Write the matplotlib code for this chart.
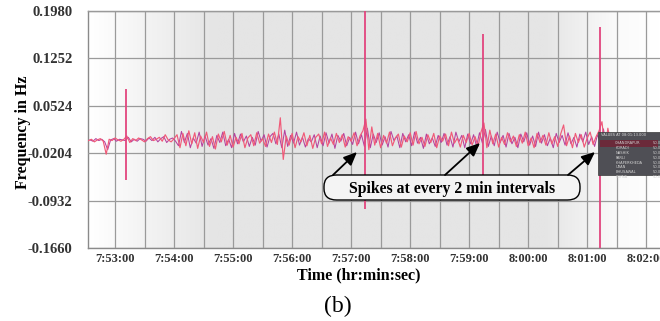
import numpy as np
import matplotlib
matplotlib.use("Agg")
import matplotlib.pyplot as plt
from matplotlib.colors import LinearSegmentedColormap
from matplotlib.patches import FancyBboxPatch, Rectangle
from matplotlib.ticker import FuncFormatter, MultipleLocator

# time axis: seconds since midnight, 3 s sampling
t_start = 7 * 3600 + 52 * 60 + 33
t_step = 3.0

# frequency deviation in mHz, series A (pink) and series B (magenta, offset by half a sample)
dev_a = [
    -1, 1, -3, 0, 2, -2, -22, 1, -1, 3, 0, -2, 1,
    6, -4,
    2, -1, 3, 0, -3, 2, 5, -1, 1, 4, -2, 8, 0, -3, 2,
    8, -12, 10, -9, 14, -6, 11, -13, 6, -4,
    12, -10, 5, -14, 9, -3, 13, -8, 7, -11,
    4, -6, 10, -12, 3, 8, -9, 11, -5, 2,
    -10, 9, -4, 12, -7, 34, -30, 6, -8, 10,
    -12, 5, -3, 11, -9, 7, -13, 4, 9, -6,
    12, -10, 3, -7, 10, -4, 8, -11, 5, -2,
    11, -9, 6, 14,
    32, -15, 20, -8,
    10, -12, 7, -5, 12, -9, 3, 9, -11, 6,
    -3, 11, -8, 13, -6, 4, -10, 8, -4, 10,
    -12, 6, -2, 9, -9, 12, -5, 3, -11, 7,
    -4, 10, -8, 5, -10, 12,
    26, -12, 15, -6,
    9, -11, 4, -7, 11, -3, 6, -10, 8, -5,
    12, -9, 3, -12, 10, -4, 7, -8, 11, -6,
    5, -10, 9,
    23, -9,
    6, -12, 10, -4, 8, -11, 3, 12, -7, 5, 14,
    28, -14, 18, -5,
    8, -6, 10, -9, 4, -7, 11, -5, 6, -8,
    9, -4, 7, -10, 5, -3, 8,
]

dev_b = [
    0, -2, 2, -1, 1, -3, -15, 0, 2, -2, 1, 0, -1,
    4, -3,
    1, -2, 2, 1, -2, 3, -1, 4, -3, 2, 5, -4, 1, 3, -2,
    -9, 13, -4, 10, -12, 3, -5, 12, -10, 6,
    -8, 2, -13, 7, -4, 12, -9, 1, -12, 10,
    -6, 9, -3, 6, -10, 4, -8, 13, -2, 8,
    -11, 5, 10, -6, 9, -12, 15, -10, 7, -5,
    12, -8, 4, -11, 2, -3, 8, -12, 6, -9,
    11, -5, 9, -13, 7, -2, 10, -9, 4, -7,
    12, -6, 8, -10, 18, -12, 9, -4, 11, -8,
    5, -11, 13, -1, 6, -12, 10, -3, 8, -9,
    12, -5, 4, -13, 9, -6, 3, -10, 7, -4,
    10, -8, 5, -11, 12, -3, 7, -12, 9, -6,
    8, -10, 11, -5, 16, -10, 6, -9, 12, -4,
    7, -11, 10, -6, 4, -12, 9, -3, 11, -8,
    6, -10, 12, -5, 8, -9, 3, -12, 10, -4,
    7, -8, 11, -6, 4, -11, 9, -3, 12, -7,
    5, -10, 8, -4, 17, -12, 10, -6, 7, -9,
    11, -5, 4, -8, 9, -3, 6, -10, 8, -4,
    10, -7, 5, -2, 6,
]

# the sharp spikes (time, peak, trough in Hz)
spike_times = ["7:53:11", "7:57:14", "7:59:14", "8:01:13"]
spike_high = [0.078, 0.215, 0.163, 0.173]
spike_low = [-0.061, -0.106, -0.081, -0.175]

y_ticks = [-0.1660, -0.0932, -0.0204, 0.0524, 0.1252, 0.1980]
tip_rows = ["CHANDRAPUR", "KORADI", "NASHIK", "PARLI", "KHAPERKHEDA",
            "URAN", "BHUSAWAL", "KOYNA"]


def to_sec(s):
    h, m, sec = (int(p) for p in s.split(":"))
    return h * 3600 + m * 60 + sec


t_a = t_start + t_step * np.arange(len(dev_a))
t_b = t_start + t_step / 2 + t_step * np.arange(len(dev_b))
f_a = np.array(dev_a) / 1000.0
f_b = np.array(dev_b) / 1000.0
t_spk = [to_sec(s) for s in spike_times]

serif = ["Liberation Serif", "DejaVu Serif"]
plt.rcParams["font.family"] = serif

fig = plt.figure(figsize=(6.6, 3.21), dpi=100)
ax = fig.add_axes([88 / 660, 1 - 248 / 321, 572 / 660, 237 / 321])

# grey gradient backdrop
bg = LinearSegmentedColormap.from_list("bg", [
    (0.0, "#ffffff"), (0.22, "#e5e5e5"), (0.80, "#e5e5e5"),
    (0.93, "#fbfbfb"), (1.0, "#ffffff")])
ax.imshow(np.linspace(0, 1, 256)[None, :], cmap=bg, aspect="auto",
          extent=[0, 1, 0, 1], transform=ax.transAxes, zorder=0)

ax.plot(t_b, f_b, color="#b5409e", lw=0.75, zorder=3)
ax.plot(t_a, f_a, color="#f05a78", lw=0.85, zorder=4)
ax.vlines(t_spk, spike_low, spike_high, color="#e2457e", lw=1.3, zorder=5)

x0 = to_sec("7:53:00")
ax.set_xlim(x0 - 27.5, x0 + 554)
ax.set_ylim(y_ticks[0], y_ticks[-1])

ax.xaxis.set_major_locator(MultipleLocator(60))
ax.xaxis.set_minor_locator(MultipleLocator(30))


def hms(v, pos):
    v = int(round(v))
    return "%d:%02d:%02d" % (v // 3600, (v % 3600) // 60, v % 60)


ax.xaxis.set_major_formatter(FuncFormatter(hms))
ax.set_yticks(y_ticks)
ax.set_yticklabels(["%.4f" % v for v in y_ticks])

ax.grid(True, which="both", color="#9a9a9a", lw=0.9, zorder=1)
ax.set_axisbelow(False)
for gl in ax.get_xgridlines() + ax.get_ygridlines():
    gl.set_zorder(1)
ax.xaxis.grid(True, which="minor", color="#9a9a9a", lw=0.9)

ax.tick_params(which="both", length=0)
ax.tick_params(axis="x", pad=3.5, labelsize=9, labelcolor="#333333")
ax.tick_params(axis="y", pad=11, labelsize=10.5, labelcolor="#333333")
for lab in ax.get_xticklabels() + ax.get_yticklabels():
    lab.set_fontweight("bold")

for s in ["top", "left", "bottom"]:
    ax.spines[s].set_color("#8a8a8a")
    ax.spines[s].set_linewidth(1.0)
ax.spines["right"].set_visible(False)

ax.set_ylabel("Frequency in Hz", fontsize=11.5, fontweight="bold")
ax.yaxis.set_label_coords(-0.10, 0.49)
ax.set_xlabel("Time (hr:min:sec)", fontsize=11.5, fontweight="bold")
ax.xaxis.set_label_coords((359 - 88) / 572, -0.082)

# tooltip box near the last spike
tx0, ty0 = (598 - 88) / 572, (248 - 175) / 237
tw, th = 62 / 572, 43 / 237
ax.add_patch(Rectangle((tx0, ty0), tw, th, transform=ax.transAxes,
                       facecolor="#4f4f55", edgecolor="#3a3a3a", lw=0.5, zorder=6))
ax.add_patch(Rectangle((tx0 + 0.003, ty0 + th - 0.062), tw - 0.006, 0.027,
                       transform=ax.transAxes, facecolor="#6b2a3a", lw=0, zorder=6))
ax.text(tx0 + 0.006, ty0 + th - 0.012, "VALUES AT 08:01:13.000", fontsize=2.6,
        color="#dddddd", transform=ax.transAxes, va="center", family="DejaVu Sans", zorder=7)
for k, name in enumerate(tip_rows):
    ax.text(tx0 + 0.03, ty0 + th - 0.047 - k * 0.0205, name, fontsize=2.6,
            color="#d0d0d0", transform=ax.transAxes, va="center",
            family="DejaVu Sans", zorder=7)
    ax.text(tx0 + tw - 0.012, ty0 + th - 0.047 - k * 0.0205, "50.0", fontsize=2.6,
            color="#d0d0d0", transform=ax.transAxes, va="center",
            family="DejaVu Sans", zorder=7)

# annotation box and arrows
bx0, bx1 = (324 - 88) / 572, (580 - 88) / 572
by0, by1 = (248 - 200) / 237, (248 - 175) / 237
ax.add_patch(FancyBboxPatch((bx0, by0), bx1 - bx0, by1 - by0,
                            boxstyle="round,pad=0,rounding_size=0.022",
                            transform=ax.transAxes, facecolor="#f4f4f4",
                            edgecolor="black", lw=1.0, zorder=8,
                            mutation_aspect=2.2))
ax.text((bx0 + bx1) / 2, (by0 + by1) / 2 - 0.005, "Spikes at every 2 min intervals",
        transform=ax.transAxes, ha="center", va="center", fontsize=11.3,
        fontweight="bold", zorder=9)


def px(x, y):
    return ((x - 88) / 572, (248 - y) / 237)


for tail, tip in [((333, 175), (357, 152)), ((445, 175), (480, 143)),
                  ((568, 175), (595, 152))]:
    ax.annotate("", xy=px(*tip), xytext=px(*tail), xycoords="axes fraction",
                textcoords="axes fraction", zorder=9,
                arrowprops=dict(arrowstyle="-|>,head_length=0.8,head_width=0.35",
                                color="black", lw=1.3, shrinkA=0, shrinkB=0))

fig.text(338 / 660, 1 - 306 / 321, "(b)", ha="center", va="center", fontsize=17)

fig.savefig("out.png", dpi=100)
